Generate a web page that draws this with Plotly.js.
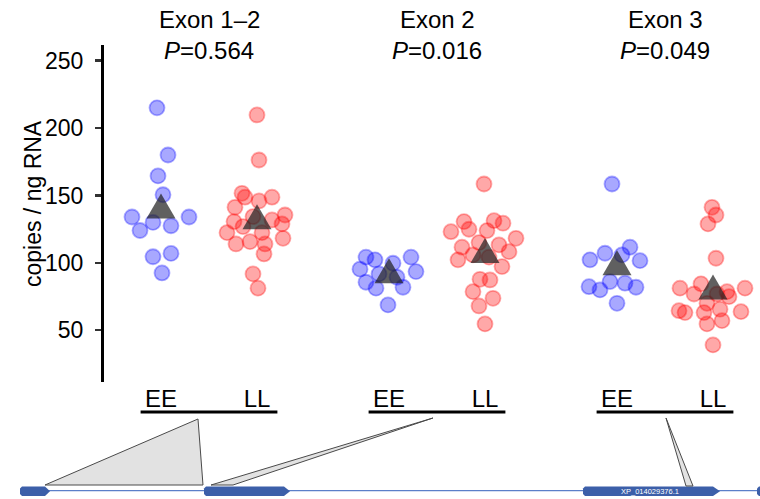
<!DOCTYPE html>
<html>
<head>
<meta charset="utf-8">
<script src="https://cdn.plot.ly/plotly-3.0.1.min.js"></script>
<style>html,body{margin:0;padding:0;background:#fff;}#chart{width:760px;height:499px;}</style>
</head>
<body>
<div id="chart"></div>
<script>
// ---------- data ----------
const groups = ['Exon 1–2', 'Exon 2', 'Exon 3'];
const pValues = ['0.564', '0.016', '0.049'];
const sideLabels = ['EE', 'LL'];

const ee1 = [215, 180, 164.5, 150.5, 134, 134, 124, 130, 127.5, 104.5, 107, 92.5];
const ll1 = [209.7, 176.3, 151.6, 148.7, 145.9, 148.7, 141.2, 135.5, 130.6, 134.3, 131.8, 128.9, 126.9, 122.4, 122.4, 118.2, 114, 115.7, 114, 106.6, 91.8, 81.2];
const ee2 = [104.2, 102.2, 104.2, 99.7, 95.3, 93.5, 91.8, 85.6, 89.3, 81.2, 81.9, 68.8];
const ll2 = [158.5, 130.6, 131.3, 129.4, 123.1, 124.9, 123.9, 118.2, 111.6, 115, 113.3, 108.3, 102.2, 105.9, 104.2, 97.2, 87.8, 87.3, 78.6, 73.7, 68, 54.7];
const ee3 = [158.5, 111.6, 107.1, 105.9, 102.2, 101.6, 82.3, 86.1, 84.9, 81.9, 79.9, 70];
const ll3 = [141.2, 135.5, 128.9, 103.4, 81.2, 84.4, 76.9, 78.6, 81.2, 76.9, 74.9, 64.5, 63.1, 63.1, 65.6, 63.8, 57.1, 54.7, 39.1, 70];

const meanEE = [139, 91, 97];
const meanLL = [131, 106, 79];

const yTicks = [50, 100, 150, 200, 250];

// horizontal beeswarm offsets (pixels) for each point
const jEE1 = [-4, 7, -3, 2, -29, 28, -21, -8, 10, -8, 10, 1];
const jLL1 = [0, 2, -15, -12, 2, 15, -22, 28, -23, -4, 15, 25, -14, -30, 5, 26, -21, -7, 8, 7, -4, 1];
const jEE2 = [-23, -14, 22, 4, -29, 27, -10, -23, 8, -13, 14, -1];
const jLL2 = [-1, -21, 9, 18, -34, -16, 2, 31, -23, -6, 14, 24, -27, -12, 4, 17, -5, 5, -12, 8, -6, 0];
const jEE3 = [-5, 13, -12, 5, -27, 23, -28, -7, 8, 19, -17, 0];
const jLL3 = [-1, 3, -5, 3, -33, -12, -19, 14, 32, 4, 16, -34, -28, -9, 7, 28, 9, -6, 0, -6];

// ---------- geometry ----------
const W = 760, H = 499;
const ML = 104, MT = 45, PW = 656, PH = 337;
const XU = 228;             // pixels per group
const G0 = 209;             // pixel centre of first group
const SIDE = 48 / XU;       // EE / LL offset from group centre
const xRange = [(ML - G0) / XU, (ML + PW - G0) / XU];
const yRange = [11.6, 261.6];

function fx(p) { return (p - ML) / PW; }
function fy(p) { return (MT + PH - p) / PH; }
function poly(pts) { return 'M' + pts.map(p => fx(p[0]).toFixed(5) + ',' + fy(p[1]).toFixed(5)).join('L') + 'Z'; }

const eeSets = [ee1, ee2, ee3], llSets = [ll1, ll2, ll3];
const eeJit = [jEE1, jEE2, jEE3], llJit = [jLL1, jLL2, jLL3];

const blueFill = 'rgba(0,0,255,0.34)', blueLine = 'rgba(0,0,255,0.32)';
const redFill = 'rgba(255,0,0,0.34)', redLine = 'rgba(255,0,0,0.32)';

const traces = [];
groups.forEach((g, i) => {
  traces.push({
    type: 'scatter', mode: 'markers',
    x: eeSets[i].map((v, k) => i - SIDE + eeJit[i][k] / XU),
    y: eeSets[i],
    marker: { size: 15, color: blueFill, line: { color: blueLine, width: 1.8 } },
    hoverinfo: 'skip', showlegend: false
  });
  traces.push({
    type: 'scatter', mode: 'markers',
    x: llSets[i].map((v, k) => i + SIDE + llJit[i][k] / XU),
    y: llSets[i],
    marker: { size: 15, color: redFill, line: { color: redLine, width: 1.8 } },
    hoverinfo: 'skip', showlegend: false
  });
});

const shapes = [];
const triPath = 'M-14.5,-8.3L14.5,-8.3L0,16.7Z';
groups.forEach((g, i) => {
  [[i - SIDE, meanEE[i]], [i + SIDE, meanLL[i]]].forEach(([xa, ya]) => {
    shapes.push({
      type: 'path', xref: 'x', yref: 'y', xsizemode: 'pixel', ysizemode: 'pixel',
      xanchor: xa, yanchor: ya, path: triPath,
      fillcolor: 'rgba(35,35,35,0.72)', line: { width: 0 }, layer: 'above'
    });
  });
  // underline below EE / LL
  shapes.push({
    type: 'line', xref: 'x', yref: 'paper', x0: i - 0.30, x1: i + 0.30,
    y0: fy(412), y1: fy(412), line: { color: '#000', width: 3 }
  });
});

// gene model
const geneBlue = '#3c5fa9';
shapes.push({ type: 'line', xref: 'paper', yref: 'paper', x0: fx(20), x1: fx(760), y0: fy(490.7), y1: fy(490.7), line: { color: '#5b7fc9', width: 1.2 } });
const blocks = [
  [[22, 486.5], [45, 486.5], [50, 491.2], [45, 496], [22, 496], [20, 494], [20, 488.5]],
  [[206, 486.5], [284, 486.5], [290, 491.2], [284, 496], [206, 496], [204, 494], [204, 488.5]],
  [[585, 486.5], [713, 486.5], [720, 491.2], [713, 496], [585, 496], [583, 494], [583, 488.5]],
  [[759, 486.5], [762, 486.5], [762, 496], [759, 496], [757, 494], [757, 488.5]]
];
blocks.forEach(b => shapes.push({ type: 'path', xref: 'paper', yref: 'paper', path: poly(b), fillcolor: geneBlue, line: { width: 0 } }));
const callouts = [
  [[45, 485], [203, 485], [198, 419]],
  [[211, 485], [233, 485], [433, 418]],
  [[686, 486], [693, 486], [666, 418]]
];
callouts.forEach(c => shapes.push({ type: 'path', xref: 'paper', yref: 'paper', path: poly(c), fillcolor: '#e2e2e2', line: { color: '#4a4a4a', width: 1 } }));

const FONT = '"Liberation Sans", Arial, Helvetica, sans-serif';
const annotations = [];
groups.forEach((g, i) => {
  annotations.push({ xref: 'x', yref: 'paper', x: i, y: fy(20), text: g, showarrow: false, xanchor: 'center', yanchor: 'middle', font: { size: 24, color: '#000', family: FONT } });
  annotations.push({ xref: 'x', yref: 'paper', x: i, y: fy(51), text: '<i>P</i>=' + pValues[i], showarrow: false, xanchor: 'center', yanchor: 'middle', font: { size: 24, color: '#000', family: FONT } });
});
annotations.push({ xref: 'paper', yref: 'paper', x: fx(33), y: fy(204), text: 'copies / ng RNA', textangle: -90, showarrow: false, xanchor: 'center', yanchor: 'middle', font: { size: 23, color: '#000', family: FONT } });
annotations.push({ xref: 'paper', yref: 'paper', x: fx(650), y: fy(491.5), text: 'XP_014029376.1', showarrow: false, xanchor: 'center', yanchor: 'middle', font: { size: 7.5, color: '#ffffff', family: FONT } });

const tickPos = [], tickTxt = [];
groups.forEach((g, i) => { tickPos.push(i - SIDE, i + SIDE); tickTxt.push(sideLabels[0], sideLabels[1]); });

const layout = {
  width: W, height: H,
  margin: { l: ML, r: W - ML - PW, t: MT, b: H - MT - PH, pad: 0 },
  paper_bgcolor: '#fff', plot_bgcolor: '#fff',
  showlegend: false,
  font: { family: FONT, color: '#000' },
  xaxis: {
    range: xRange, showgrid: false, zeroline: false, showline: false,
    tickmode: 'array', tickvals: tickPos, ticktext: tickTxt, ticks: '', ticklen: 0,
    tickfont: { size: 24, color: '#000', family: FONT }, fixedrange: true
  },
  yaxis: {
    range: yRange, showgrid: false, zeroline: false,
    showline: true, linecolor: '#000', linewidth: 3,
    tickmode: 'array', tickvals: yTicks, ticks: 'outside', ticklen: 6, tickwidth: 2.5, tickcolor: '#333',
    ticklabelstandoff: 7,
    tickfont: { size: 23, color: '#000', family: FONT }, fixedrange: true
  },
  shapes: shapes,
  annotations: annotations
};

Plotly.newPlot('chart', traces, layout, { staticPlot: true, displayModeBar: false });
</script>
</body>
</html>
